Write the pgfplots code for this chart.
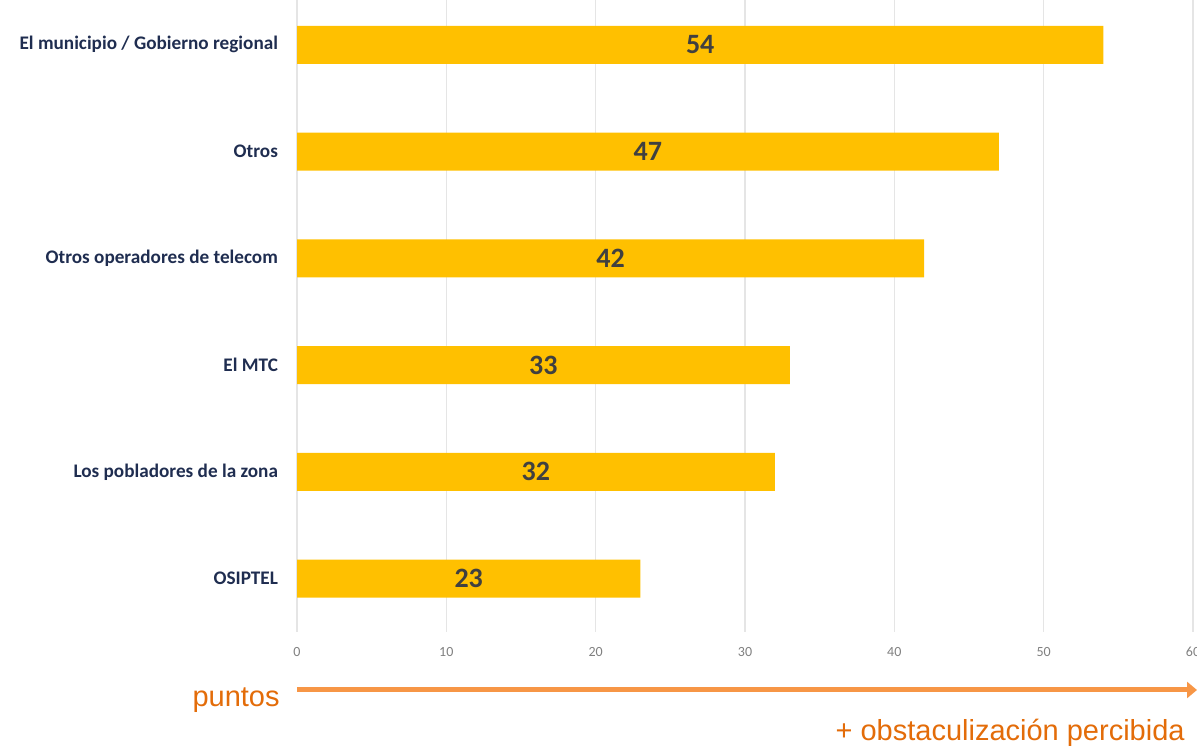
\documentclass[border=0pt]{standalone}
\usepackage{pgfplots}
\pgfplotsset{compat=1.18}
\usepackage{pgfplotstable}
\usetikzlibrary{arrows.meta}
\usepackage{fontspec}
\setmainfont{Carlito}
\newfontfamily\arialf{Liberation Sans}
\definecolor{barc}{HTML}{FFC000}
\definecolor{navy}{HTML}{1F2D50}
\definecolor{orgline}{HTML}{F79646}
\definecolor{orgtext}{HTML}{E36C09}
\definecolor{lbl}{HTML}{404040}
\pgfplotstableread{
y v
0 23
1 32
2 33
3 42
4 47
5 54
}\data
\begin{document}
\begin{tikzpicture}
\path[use as bounding box] (0,0) rectangle (598.5pt,374pt);
\begin{axis}[at={(148.5pt,58pt)}, anchor=south west, scale only axis,
  width=448pt, height=316pt,
  xmin=0, xmax=60, ymin=-0.5, ymax=5.42,
  xtick={0,10,...,60},
  ytick={0,...,5},
  yticklabels={OSIPTEL, Los pobladores de la zona, El MTC, Otros operadores de telecom, Otros, El municipio / Gobierno regional},
  axis line style={draw=none},
  major tick length=0pt,
  xmajorgrids, grid style={black!10, line width=0.6pt},
  /pgf/number format/assume math mode=true,
  xticklabel style={font=\fontsize{7}{8}\selectfont, text=black!50, yshift=-4pt},
  yticklabel style={font=\fontsize{9.6}{11}\selectfont\bfseries, text=navy, xshift=-6pt},
  clip=false,
]
\addplot[xbar, bar shift=0pt, bar width=19pt, fill=barc, draw=none] table[x=v, y=y] {\data};
\addplot[only marks, mark=none, nodes near coords, point meta=explicit,
  nodes near coords style={anchor=center, font=\fontsize{14}{16}\selectfont\bfseries, text=lbl}]
  table[x expr=\thisrow{v}/2, y=y, meta=v] {\data};
\end{axis}
\draw[orgline, line width=2.5pt, -{Triangle[length=5pt, width=8pt]}] (148.5pt,29pt) -- (598.5pt,29pt);
\node[anchor=east, text=orgtext, font=\arialf\fontsize{14.5}{16}\selectfont, inner sep=0pt] at (140pt,24pt) {puntos};
\node[anchor=east, text=orgtext, font=\arialf\fontsize{14.5}{16}\selectfont, inner sep=0pt] at (592.5pt,7.5pt) {+ obstaculización percibida};
\end{tikzpicture}
\end{document}
